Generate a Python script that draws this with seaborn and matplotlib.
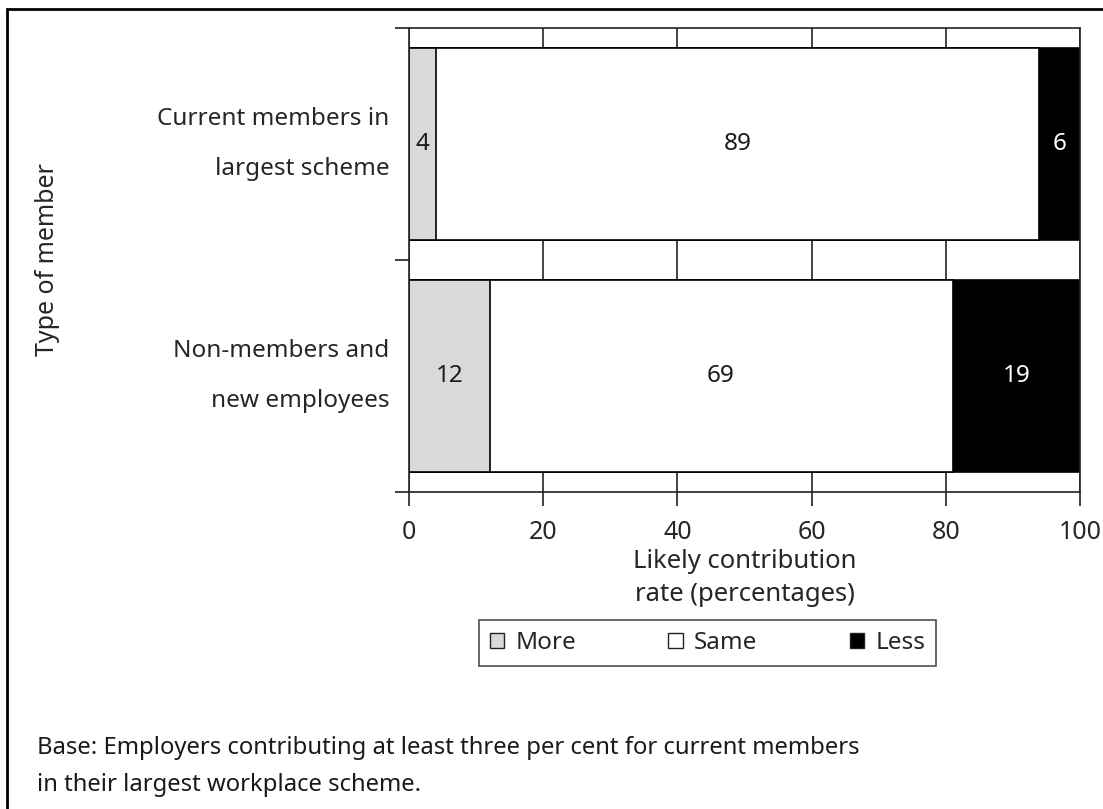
import numpy as np
import pandas as pd
import matplotlib
matplotlib.use("Agg")
import matplotlib.pyplot as plt
import matplotlib.patches as mpatches
import seaborn as sns

categories = ["Current members in\nlargest scheme", "Non-members and\nnew employees"]
more = [4, 12]
same = [89, 69]
less = [6, 19]
series_names = ["More", "Same", "Less"]
series_colors = ["#d9d9db", "#ffffff", "#000000"]
label_colors = ["#1a1a1a", "#1a1a1a", "#ffffff"]
xticks = [0, 20, 40, 60, 80, 100]

sns.set_theme(style="white")
plt.rcParams["font.family"] = ["Noto Sans", "DejaVu Sans"]
plt.rcParams["font.size"] = 17

raw = np.array([more, same, less], dtype=float)
share = raw / raw.sum(axis=0) * 100  # normalise each row to 100 %
cum = np.cumsum(share, axis=0)

fig = plt.figure(figsize=(11.03, 8.09), dpi=100)
ax = fig.add_axes([409 / 1103, 1 - 492 / 809, 671 / 1103, 464 / 809])

# draw cumulative bars from the longest to the shortest to stack them
for i in [2, 1, 0]:
    df = pd.DataFrame({"cat": categories, "val": cum[i]})
    sns.barplot(data=df, x="val", y="cat", orient="h", color=series_colors[i],
                saturation=1, width=0.83, edgecolor="black", linewidth=1.2, ax=ax,
                zorder=2)

for i in range(3):
    starts = cum[i] - share[i]
    for j in range(len(categories)):
        ax.text(starts[j] + share[i][j] / 2, j, f"{int(raw[i][j])}", ha="center",
                va="center", color=label_colors[i], fontsize=17.5, zorder=5)

ax.set_xlim(0, 100)
ax.set_ylim(1.5, -0.5)
ax.set_xticks(xticks)
ax.set_xticklabels([str(t) for t in xticks])
ax.set_yticks([-0.5, 0.5, 1.5], minor=True)
ax.set_yticks([-0.07, 0.93], labels=categories)
ax.tick_params(axis="y", which="major", length=0, pad=14, labelsize=17.5)
ax.tick_params(axis="y", which="minor", length=10, width=1.2, color="#222222", direction="out", left=True)
ax.tick_params(axis="x", which="major", length=10, width=1.2, color="#222222", direction="out",
               bottom=True, pad=10, labelsize=18)
for lbl in ax.get_yticklabels():
    lbl.set_horizontalalignment("right")
    lbl.set_multialignment("right")
    lbl.set_linespacing(2.45)

ax.set_axisbelow(True)
ax.grid(axis="x", color="#444444", linewidth=1.4)
ax.grid(axis="y", visible=False)
for s in ax.spines.values():
    s.set_visible(True)
    s.set_color("#222222")
    s.set_linewidth(1.2)

ax.set_xlabel("Likely contribution\nrate (percentages)", fontsize=18.5, linespacing=1.4, labelpad=3)
ax.set_ylabel("Type of member", fontsize=18)
ax.yaxis.set_label_coords(-0.52, 0.5)

handles = [mpatches.Patch(facecolor=c, edgecolor="#222222", linewidth=1.0) for c in series_colors]
leg = fig.legend(handles, series_names, loc="center", bbox_to_anchor=(707.5 / 1103, 1 - 643 / 809),
                 ncol=3, frameon=True, fancybox=False, handlelength=0.6, handleheight=0.6,
                 handletextpad=0.45, columnspacing=3.8, borderpad=0.45, fontsize=17.5)
leg.get_frame().set_edgecolor("#222222")
leg.get_frame().set_linewidth(1.2)

fig.text(37 / 1103, 1 - 748 / 809, "Base: Employers contributing at least three per cent for current members",
         fontsize=17.2, va="center", ha="left", color="#1a1a1a")
fig.text(37 / 1103, 1 - 785 / 809, "in their largest workplace scheme.",
         fontsize=17.2, va="center", ha="left", color="#1a1a1a")

border = mpatches.Rectangle((7 / 1103, -0.1), 1.2, 1 - 9 / 809 + 0.1, transform=fig.transFigure,
                            fill=False, edgecolor="black", linewidth=2.0, clip_on=False)
fig.add_artist(border)

fig.savefig("out.png", dpi=100)
